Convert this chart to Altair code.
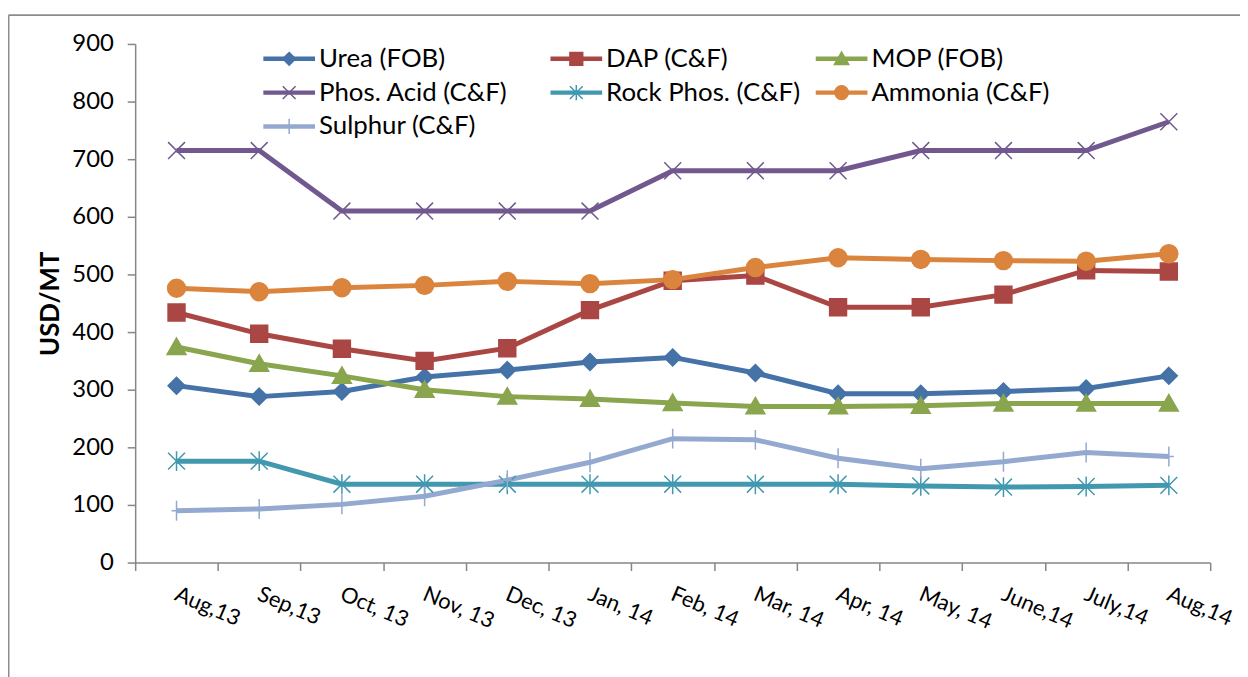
import altair as alt
import pandas as pd

months = ["Aug,13", "Sep,13", "Oct, 13", "Nov, 13", "Dec, 13", "Jan, 14", "Feb, 14",
          "Mar, 14", "Apr, 14", "May, 14", "June,14", "July,14", "Aug,14"]
series = ["Urea (FOB)", "DAP (C&F)", "MOP (FOB)", "Phos. Acid (C&F)",
          "Rock Phos. (C&F)", "Ammonia (C&F)", "Sulphur (C&F)"]
urea = [307, 288, 297, 322, 334, 348, 356, 329, 293, 293, 297, 302, 324]
dap = [434, 397, 371, 350, 372, 438, 489, 498, 443, 443, 465, 507, 505]
mop = [374, 345, 324, 300, 288, 284, 277, 271, 271, 272, 276, 276, 276]
phos_acid = [715, 715, 610, 610, 610, 610, 680, 680, 680, 715, 715, 715, 765]
rock_phos = [176, 176, 136, 136, 136, 136, 136, 136, 136, 133, 131, 132, 134]
ammonia = [476, 470, 477, 481, 488, 484, 491, 512, 529, 526, 524, 523, 536]
sulphur = [90, 93, 101, 115, 143, 174, 215, 213, 181, 163, 175, 191, 184]
y_ticks = [0, 100, 200, 300, 400, 500, 600, 700, 800, 900]

colors = ["#4572A7", "#AA4643", "#89A54E", "#71588F", "#4198AF", "#DB843D", "#93A9CF"]

# marker shapes (unit box, scaled by sqrt(size)/2)
marker_paths = [
    "M0,-0.85L0.85,0L0,0.85L-0.85,0Z",
    "M-0.85,-0.85L0.85,-0.85L0.85,0.85L-0.85,0.85Z",
    "M0,-0.9L0.95,0.75L-0.95,0.75Z",
    "M-0.85,-0.85L0.85,0.85M-0.85,0.85L0.85,-0.85",
    "M-0.85,-0.85L0.85,0.85M-0.85,0.85L0.85,-0.85M0,-1L0,1",
    "M0.9,0A0.9,0.9 0 1,1 -0.9,0A0.9,0.9 0 1,1 0.9,0Z",
    "M0,-1L0,1M-0.5,0L0.5,0",
]

values = [urea, dap, mop, phos_acid, rock_phos, ammonia, sulphur]
rows = []
for s, vals in zip(series, values):
    for m, v in zip(months, vals):
        rows.append({"month": m, "series": s, "marker": s, "value": v})
df = pd.DataFrame(rows)

# legend table: 3 columns, filled row by row
legend_df = pd.DataFrame({
    "series": series,
    "marker": series,
    "col": [i % 3 for i in range(len(series))],
    "row": [i // 3 for i in range(len(series))],
})

FONT = "Lato"

x_enc = alt.X("month:N", sort=months,
              scale=alt.Scale(type="band", domain=months, paddingInner=0, paddingOuter=0),
              axis=alt.Axis(title=None, labelAngle=23, labelAlign="left", labelBaseline="top",
                            labelFont=FONT, labelFontSize=22, labelColor="#000000",
                            labelPadding=13, labelOffset=3, tickBand="extent", tickSize=8,
                            tickColor="#868686", domainColor="#868686", domainWidth=1.5,
                            tickWidth=1.5, grid=False, labelOverlap=False))
x_enc_noaxis = alt.X("month:N", sort=months,
                     scale=alt.Scale(type="band", domain=months, paddingInner=0, paddingOuter=0),
                     axis=None)
y_enc = alt.Y("value:Q", scale=alt.Scale(domain=[0, 900], nice=False),
              axis=alt.Axis(title="USD/MT", values=y_ticks, labelFont=FONT, labelFontSize=24,
                            labelColor="#000000", labelPadding=14, tickSize=8,
                            tickColor="#868686", domainColor="#868686", domainWidth=1.5,
                            tickWidth=1.5, grid=False, titleFont=FONT, titleFontSize=26,
                            titleFontWeight="bold", titleColor="#000000", titlePadding=8))
y_enc_noaxis = alt.Y("value:Q", scale=alt.Scale(domain=[0, 900], nice=False), axis=None)

color_scale = alt.Scale(domain=series, range=colors)
shape_scale = alt.Scale(domain=series, range=marker_paths)

lines = alt.Chart(df).mark_line(strokeWidth=5).encode(
    x=x_enc, y=y_enc,
    color=alt.Color("series:N", scale=color_scale, legend=None, sort=series),
)
points = alt.Chart(df).mark_point(filled=True, size=400, strokeWidth=1.5, opacity=1).encode(
    x=x_enc_noaxis, y=y_enc_noaxis,
    color=alt.Color("series:N", scale=color_scale, legend=None),
    stroke=alt.Stroke("marker:N", scale=color_scale, legend=None),
    shape=alt.Shape("marker:N", scale=shape_scale, legend=None),
)

# legend drawn from the legend table (column/row -> pixel scales)
lx = alt.X("col:Q", scale=alt.Scale(domain=[0, 1, 2], range=[155, 444, 711], zero=False,
                                    nice=False), axis=None)
ly = alt.Y("row:Q", scale=alt.Scale(domain=[0, 2], range=[15, 83], zero=False, nice=False),
           axis=None)
leg_lines = alt.Chart(legend_df).mark_tick(orient="horizontal", size=52, thickness=4.5,
                                           opacity=1).encode(
    x=lx, y=ly, color=alt.Color("series:N", scale=color_scale, legend=None))
leg_marks = alt.Chart(legend_df).mark_point(filled=True, size=230, strokeWidth=1.5,
                                            opacity=1).encode(
    x=lx, y=ly,
    color=alt.Color("series:N", scale=color_scale, legend=None),
    stroke=alt.Stroke("marker:N", scale=color_scale, legend=None),
    shape=alt.Shape("marker:N", scale=shape_scale, legend=None))
leg_text = alt.Chart(legend_df).mark_text(align="left", baseline="middle", dx=30, font=FONT,
                                          fontSize=26, color="#000000").encode(
    x=lx, y=ly, text="series:N")

frame_df = pd.DataFrame({"k": [0]})
frame_v = alt.Chart(frame_df).mark_rule(color="#8c8c8c", strokeWidth=2, clip=False).encode(
    x=alt.value(-127.5), y=alt.value(-29), y2=alt.value(700))
frame_h = alt.Chart(frame_df).mark_rule(color="#8c8c8c", strokeWidth=2, clip=False).encode(
    x=alt.value(-127.5), x2=alt.value(1200), y=alt.value(-29))

chart = alt.layer(frame_v, frame_h, lines, points, leg_lines, leg_marks, leg_text).resolve_scale(
    x="independent", y="independent"
).properties(
    width=1082, height=522,
    padding={"left": 128, "top": 34, "right": 30, "bottom": 113},
    autosize=alt.AutoSizeParams(type="none"),
    background="#ffffff",
).configure_view(stroke=None)

chart.save("out.html", embed_options={"renderer": "svg", "actions": False})
